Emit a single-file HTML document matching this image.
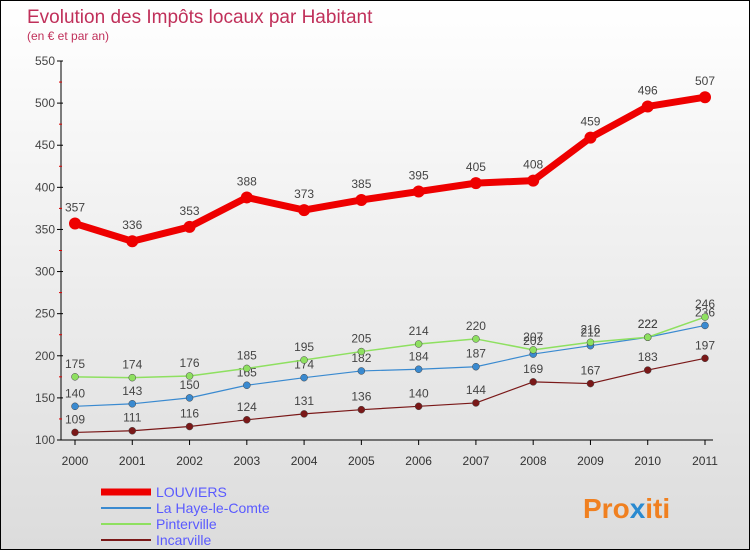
<!DOCTYPE html>
<html><head><meta charset="utf-8"><style>
body{margin:0}
#c{position:relative;width:748px;height:548px;border:1px solid #000;background:linear-gradient(#fff,#dcdcdc);font-family:"Liberation Sans",sans-serif;overflow:hidden}
</style></head><body>
<div id="c">
<svg id="s" width="748" height="548" style="position:absolute;left:0;top:0">
<text x="26" y="22" font-size="19" fill="#c0305a">Evolution des Impôts locaux par Habitant</text>
<text x="26" y="39" font-size="12" fill="#c0305a">(en € et par an)</text>
<text x="582" y="517" font-size="28" font-weight="bold" fill="#f08020">Pro<tspan fill="#2a8ad0">x</tspan>iti</text>
</svg>
</div>
<script>
const years=[2000,2001,2002,2003,2004,2005,2006,2007,2008,2009,2010,2011];
const louviers=[357,336,353,388,373,385,395,405,408,459,496,507];
const laHaye=[140,143,150,165,174,182,184,187,202,212,222,236];
const pinterville=[175,174,176,185,195,205,214,220,207,216,222,246];
const incarville=[109,111,116,124,131,136,140,144,169,167,183,197];
const yTicks=[100,150,200,250,300,350,400,450,500,550];
const seriesNames=['LOUVIERS','La Haye-le-Comte','Pinterville','Incarville'];
const NS='http://www.w3.org/2000/svg';
const s=document.getElementById('s');
const X=i=>74+i*(630/11);
const Y=v=>439-(v-100)*(379/450);
function mk(t,a){const e=document.createElementNS(NS,t);for(const k in a)e.setAttribute(k,a[k]);s.appendChild(e);return e;}
let ax=mk('line',{x1:60,y1:Y(550),x2:60,y2:439,stroke:'#000'});

let xx=mk('line',{x1:60,y1:439,x2:712,y2:439,stroke:'#000'});

yTicks.forEach(v=>{
 let t=mk('line',{x1:56,y1:Y(v),x2:62,y2:Y(v),stroke:'#000'});
 
 let l=mk('text',{x:54,y:Y(v)+4,'font-size':12,fill:'#444','text-anchor':'end'});l.textContent=v;
 
 if(v<550){let m=mk('line',{x1:58,y1:Y(v+25),x2:61,y2:Y(v+25),stroke:'#d00'});
 }
});
years.forEach((y,i)=>{
 let t=mk('line',{x1:X(i),y1:439,x2:X(i),y2:444,stroke:'#000'});
 
 let l=mk('text',{x:X(i),y:464,'font-size':12,fill:'#333','text-anchor':'middle'});l.textContent=y;
 
});
function series(data,color,w,r,name,dy){
 let p=mk('polyline',{points:data.map((v,i)=>X(i)+','+Y(v)).join(' '),fill:'none',stroke:color,'stroke-width':w,'stroke-linejoin':'round'});
 
 data.forEach((v,i)=>{
  let c=mk('circle',{cx:X(i),cy:Y(v),r:r,fill:color,stroke:w>3?'none':'#444','stroke-width':0.5});
  
  let l=mk('text',{x:X(i),y:Y(v)+dy,'font-size':12,fill:'#444','text-anchor':'middle'});l.textContent=v;
  
 });
}
series(incarville,'#7a1818',1.2,3.5,'incarville',-9);
series(laHaye,'#3a8ad0',1.2,3.5,'la-haye-le-comte',-9);
series(pinterville,'#8ee060',1.5,3.5,'pinterville',-9);
series(louviers,'#ee0000',7,6,'louviers',-12);
const lc=['#ee0000','#3a8ad0','#8ee060','#7a1818'],lw=[7,2,2,2];
seriesNames.forEach((n,i)=>{
 let y=491+i*16;
 let l=mk('line',{x1:100,y1:y,x2:150,y2:y,stroke:lc[i],'stroke-width':lw[i]});
 
 let t=mk('text',{x:155,y:y+5,'font-size':14,fill:'#5a5aff'});t.textContent=n;
 
});
</script>
</body></html>
